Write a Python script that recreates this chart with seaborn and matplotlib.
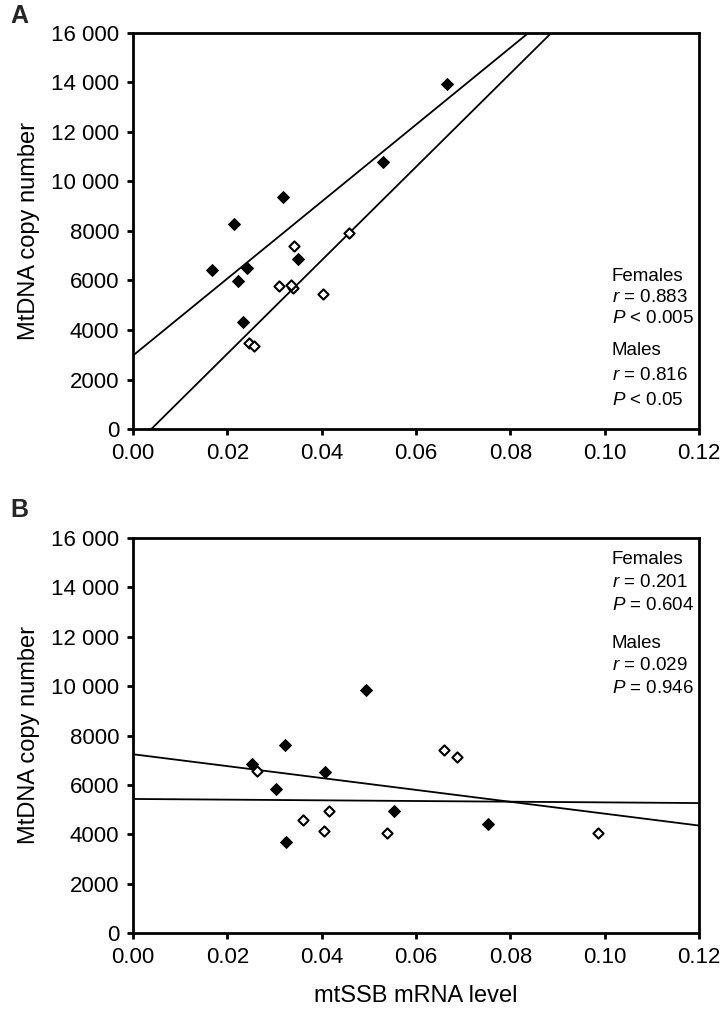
import matplotlib
matplotlib.use("Agg")
import matplotlib.pyplot as plt
import seaborn as sns
import numpy as np
import pandas as pd

# ---------------- data ----------------
# Panel A (filled = females, open = males)
a_fem_x = [0.0529, 0.0317, 0.0214, 0.0168, 0.0242, 0.0223, 0.0349, 0.0233, 0.0666]
a_fem_y = [10775, 9385, 8271, 6411, 6504, 5991, 6855, 4311, 13938]
a_mal_x = [0.0342, 0.0459, 0.0310, 0.0339, 0.0334, 0.0402, 0.0245, 0.0257]
a_mal_y = [7393, 7931, 5765, 5684, 5818, 5454, 3462, 3353]

# Panel B
b_fem_x = [0.0493, 0.0322, 0.0252, 0.0408, 0.0303, 0.0553, 0.0325, 0.0753]
b_fem_y = [9830, 7614, 6857, 6533, 5844, 4929, 3686, 4427]
b_mal_x = [0.0262, 0.0361, 0.0416, 0.0406, 0.0539, 0.0659, 0.0686, 0.0985]
b_mal_y = [6574, 4564, 4941, 4119, 4050, 7412, 7116, 4063]

x_ticks = [0.00, 0.02, 0.04, 0.06, 0.08, 0.10, 0.12]
x_tick_labels = ["0.00", "0.02", "0.04", "0.06", "0.08", "0.10", "0.12"]
y_ticks = [0, 2000, 4000, 6000, 8000, 10000, 12000, 14000, 16000]
y_tick_labels = ["0", "2000", "4000", "6000", "8000", "10 000", "12 000", "14 000", "16 000"]

a_stats = ["Females", "$\\mathit{r}$ = 0.883", "$\\mathit{P}$ < 0.005",
           "Males", "$\\mathit{r}$ = 0.816", "$\\mathit{P}$ < 0.05"]
b_stats = ["Females", "$\\mathit{r}$ = 0.201", "$\\mathit{P}$ = 0.604",
           "Males", "$\\mathit{r}$ = 0.029", "$\\mathit{P}$ = 0.946"]

# ---------------- style ----------------
sns.set_theme(style="ticks")
plt.rcParams["font.family"] = ["Liberation Sans", "DejaVu Sans"]
plt.rcParams["mathtext.fontset"] = "custom"
plt.rcParams["mathtext.rm"] = "Liberation Sans"
plt.rcParams["mathtext.it"] = "Liberation Sans:italic"

W, H = 728, 1015
fig = plt.figure(figsize=(W / 100, H / 100), dpi=100)

def px_axes(left, top, right, bottom):
    return fig.add_axes([left / W, 1 - bottom / H, (right - left) / W, (bottom - top) / H])

axA = px_axes(133, 33, 699, 429)
axB = px_axes(133, 538, 699, 933)

def draw_panel(ax, fx, fy, mx, my, stats, ys):
    ax.set_xlim(0, 0.12)
    ax.set_ylim(0, 16000)
    dff = pd.DataFrame({"x": fx, "y": fy})
    dfm = pd.DataFrame({"x": mx, "y": my})
    sns.regplot(data=dff, x="x", y="y", ax=ax, ci=None, truncate=False,
                marker="D", color="black",
                scatter_kws={"s": 36, "alpha": 1, "linewidths": 0.8,
                             "edgecolors": "black", "zorder": 3},
                line_kws={"lw": 1.3, "color": "black", "zorder": 2})
    sns.regplot(data=dfm, x="x", y="y", ax=ax, ci=None, truncate=False,
                marker="D", color="black",
                scatter_kws={"s": 27, "alpha": 1, "linewidths": 1.5,
                             "facecolors": "white", "edgecolors": "black",
                             "zorder": 3},
                line_kws={"lw": 1.3, "color": "black", "zorder": 2})
    ax.set_xlim(0, 0.12)
    ax.set_ylim(0, 16000)
    ax.set_xticks(x_ticks)
    ax.set_xticklabels(x_tick_labels)
    ax.set_yticks(y_ticks)
    ax.set_yticklabels(y_tick_labels)
    ax.tick_params(axis="both", direction="out", length=4, width=2,
                   labelsize=16, colors="black")
    ax.tick_params(axis="x", pad=6)
    ax.tick_params(axis="y", pad=6)
    for sp in ax.spines.values():
        sp.set_visible(True)
        sp.set_linewidth(2)
        sp.set_color("black")
    ax.set_ylabel("MtDNA copy number", fontsize=17, color="black", labelpad=8)
    ax.set_xlabel("")
    for txt, yy in zip(stats, ys):
        ax.text(0.846, yy, txt, transform=ax.transAxes, fontsize=13.5,
                ha="left", va="center", color="black")

draw_panel(axA, a_fem_x, a_fem_y, a_mal_x, a_mal_y, a_stats,
           [0.386, 0.331, 0.278, 0.197, 0.134, 0.073])
draw_panel(axB, b_fem_x, b_fem_y, b_mal_x, b_mal_y, b_stats,
           [0.945, 0.887, 0.828, 0.734, 0.678, 0.618])
axB.set_xlabel("mtSSB mRNA level", fontsize=17, color="black", labelpad=12)

fig.text(10 / W, 1 - 16 / H, "A", fontsize=18, fontweight="bold", ha="left", va="center")
fig.text(10 / W, 1 - 510 / H, "B", fontsize=18, fontweight="bold", ha="left", va="center")

fig.savefig("out.png", dpi=100, facecolor="white")
